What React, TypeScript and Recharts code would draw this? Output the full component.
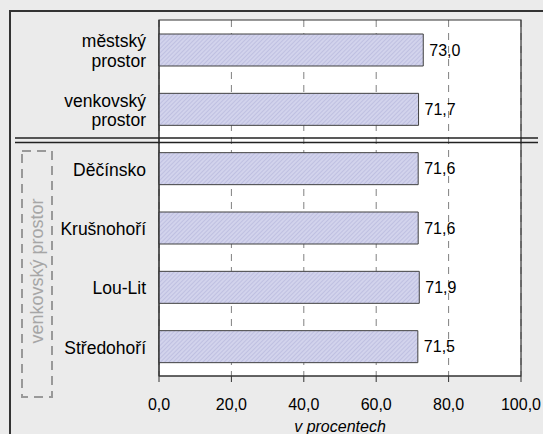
import { BarChart, Bar, XAxis, YAxis, CartesianGrid, LabelList, ReferenceArea } from 'recharts';

const categories = ['městský\nprostor', 'venkovský\nprostor', 'Děčínsko', 'Krušnohoří', 'Lou-Lit', 'Středohoří'];
const values = [73.0, 71.7, 71.6, 71.6, 71.9, 71.5];
const xTicks = [0, 20, 40, 60, 80, 100];

const data = categories.map((name, i) => ({ name, value: values[i] }));

const font = '"Liberation Sans", Arial, sans-serif';
const fmt = (v: number) => v.toFixed(1).replace('.', ',');

const CategoryTick = (props: any) => {
  const { x, y, payload } = props;
  const lines = String(payload.value).split('\n');
  const start = y + 1 - ((lines.length - 1) * 19.5) / 2;
  return (
    <text x={x} y={start} textAnchor="end" fontFamily={font} fontSize={17.5} fill="#000">
      {lines.map((line, i) => (
        <tspan key={i} x={x} y={start + i * 19.5} dy="0.36em">
          {line}
        </tspan>
      ))}
    </text>
  );
};

export default function App() {
  return (
    <div
      style={{
        position: 'fixed',
        left: 0,
        top: 0,
        width: 543,
        height: 434,
        background: '#ebebeb',
        overflow: 'hidden',
      }}
    >
      <svg width={0} height={0} style={{ position: 'absolute' }}>
        <defs>
          <pattern id="hatch" patternUnits="userSpaceOnUse" width={3} height={3} patternTransform="rotate(45)">
            <rect width={3} height={3} fill="#d2d3ec" />
            <line x1={0} y1={0} x2={0} y2={3} stroke="#b3b4da" strokeWidth={1.2} />
          </pattern>
        </defs>
      </svg>
      <BarChart
        width={543}
        height={434}
        data={data}
        layout="vertical"
        margin={{ top: 20, right: 22, bottom: 0, left: 9 }}
      >
        <CartesianGrid horizontal={false} stroke="#808080" strokeDasharray="7 6" fill="#ffffff" />
        <XAxis
          type="number"
          domain={[0, 100]}
          ticks={xTicks}
          tickFormatter={fmt}
          height={58}
          tickSize={6}
          tickMargin={17}
          axisLine={{ stroke: '#333' }}
          tickLine={{ stroke: '#333' }}
          tick={{ fill: '#000', fontSize: 16, fontFamily: font }}
          label={{
            value: 'v procentech',
            position: 'insideBottom',
            offset: 2,
            fill: '#000',
            fontSize: 16,
            fontStyle: 'italic',
            fontFamily: font,
          }}
        />
        <YAxis
          type="category"
          dataKey="name"
          width={150}
          tickSize={0}
          tickMargin={13}
          axisLine={{ stroke: '#333' }}
          tickLine={false}
          tick={<CategoryTick />}
          interval={0}
        />
        <Bar dataKey="value" barSize={32} fill="url(#hatch)" stroke="#404040" strokeWidth={1} isAnimationActive={false}>
          <LabelList
            dataKey="value"
            position="right"
            offset={6}
            formatter={(v: any) => fmt(Number(v))}
            fill="#000"
            fontSize={16}
            fontFamily={font}
          />
        </Bar>
        <ReferenceArea x1={0} x2={100} fill="none" stroke="#333" strokeWidth={1.2} ifOverflow="visible" />
      </BarChart>
      <svg
        width={543}
        height={434}
        style={{ position: 'absolute', left: 0, top: 0, pointerEvents: 'none' }}
      >
        <rect x={10} y={11} width={600} height={500} fill="none" stroke="#333" strokeWidth={2} />
        <line x1={15} y1={138} x2={538} y2={138} stroke="#222" strokeWidth={1.5} />
        <line x1={15} y1={142.5} x2={538} y2={142.5} stroke="#222" strokeWidth={1.5} />
        <rect x={22} y={151} width={30} height={246} fill="none" stroke="#999" strokeWidth={2} strokeDasharray="9 6" />
        <text
          x={37}
          y={271}
          transform="rotate(-90 37 271)"
          textAnchor="middle"
          dominantBaseline="central"
          fontFamily={font}
          fontSize={18}
          fill="#a6a6a6"
        >
          venkovský prostor
        </text>
      </svg>
    </div>
  );
}
